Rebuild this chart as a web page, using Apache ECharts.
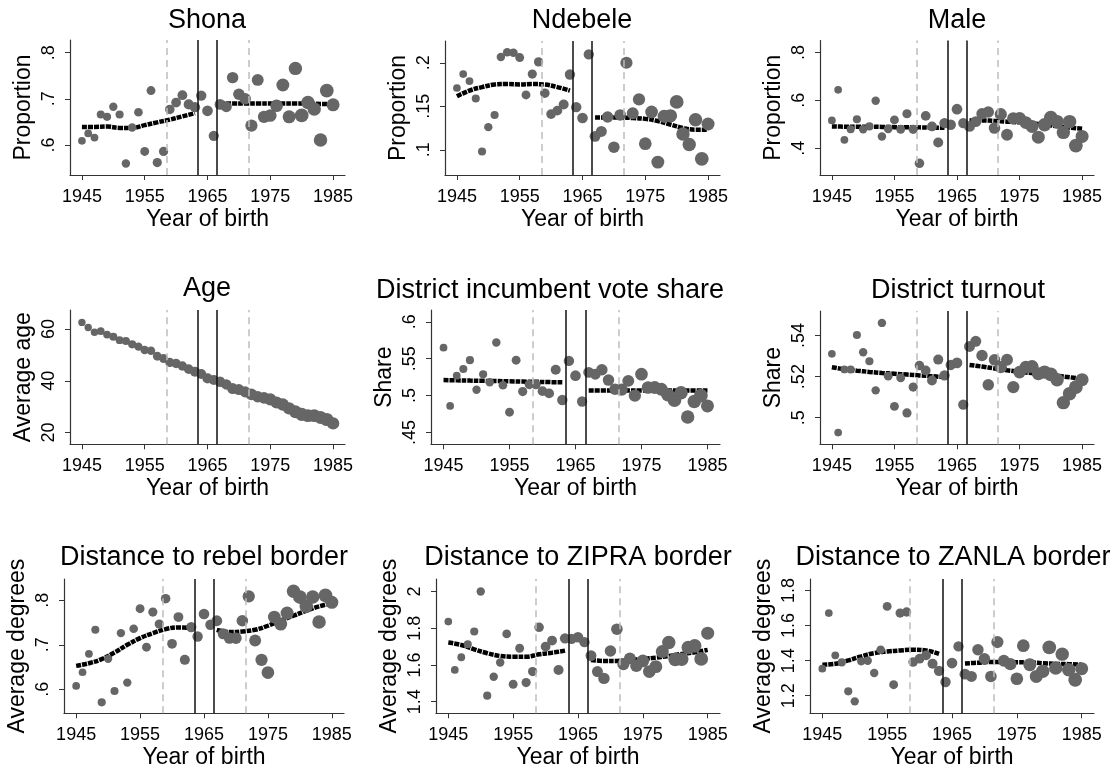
<!DOCTYPE html>
<html>
<head>
<meta charset="utf-8">
<script src="https://cdn.jsdelivr.net/npm/echarts@6/dist/echarts.min.js"></script>
<style>
  html, body { margin: 0; padding: 0; background: #fff; }
  #chart { width: 1120px; height: 771px; }
</style>
</head>
<body>
<div id="chart"></div>
<script>
// ---- Birth-year cohorts ----
const years = [1945, 1946, 1947, 1948, 1949, 1950, 1951, 1952, 1953, 1954,
               1955, 1956, 1957, 1958, 1959, 1960, 1961, 1962, 1963, 1964,
               1965, 1966, 1967, 1968, 1969, 1970, 1971, 1972, 1973, 1974,
               1975, 1976, 1977, 1978, 1979, 1980, 1981, 1982, 1983, 1984, 1985];

// Respondents per cohort (marker weight)
const cohortN = [45, 45, 46, 49, 50, 53, 50, 54, 54, 57,
                 60, 60, 64, 65, 69, 72, 73, 76, 81, 82,
                 86, 80, 90, 91, 99, 100, 101, 113, 107, 114,
                 121, 122, 127, 128, 136, 143, 137, 136, 138, 144, 128];

// ---- Cohort means ----
const shona = [0.609, 0.625, 0.616, 0.666, 0.661, 0.683, 0.666, 0.560, 0.638, 0.671,
               0.586, 0.718, 0.562, 0.586, 0.677, 0.692, 0.708, 0.688, 0.682, 0.707,
               0.674, 0.620, 0.688, 0.683, 0.746, 0.710, 0.700, 0.642, 0.741, 0.661,
               0.664, 0.685, 0.730, 0.661, 0.766, 0.664, 0.692, 0.678, 0.611, 0.718, 0.687];

const ndebele = [0.171, 0.187, 0.179, 0.159, 0.098, 0.126, 0.140, 0.2065, 0.212, 0.2115,
                 0.206, 0.163, 0.187, 0.201, 0.165, 0.141, 0.145, 0.152, 0.1865, 0.149,
                 0.1365, 0.2096, 0.1154, 0.121, 0.1377, 0.103, 0.140, 0.200, 0.142, 0.158,
                 0.107, 0.1435, 0.0858, 0.1385, 0.139, 0.155, 0.118, 0.106, 0.1346, 0.0896, 0.1296];

const male = [0.516, 0.644, 0.435, 0.479, 0.521, 0.479, 0.491, 0.598, 0.449, 0.481,
              0.518, 0.479, 0.544, 0.479, 0.337, 0.535, 0.491, 0.424, 0.505, 0.498,
              0.563, 0.505, 0.491, 0.511, 0.544, 0.551, 0.484, 0.542, 0.456, 0.525,
              0.525, 0.507, 0.491, 0.446, 0.498, 0.528, 0.511, 0.466, 0.511, 0.411, 0.449];

const averageAge = [62.6, 60.6, 58.8, 59.2, 57.9, 57.0, 55.7, 55.4, 54.1, 53.2,
                    51.9, 51.6, 49.5, 48.6, 47.1, 46.7, 45.7, 44.5, 43.5, 42.6,
                    40.9, 40.3, 39.6, 38.6, 37.0, 36.6, 35.7, 34.7, 33.8, 33.4,
                    32.8, 31.6, 30.8, 29.3, 28.0, 27.0, 26.5, 26.5, 25.8, 25.0, 23.5];

const incumbentShare = [0.565, 0.486, 0.527, 0.536, 0.548, 0.508, 0.529, 0.518, 0.572, 0.514,
                        0.4775, 0.548, 0.5054, 0.515, 0.515, 0.506, 0.503, 0.535, 0.494, 0.547,
                        0.527, 0.492, 0.5315, 0.529, 0.535, 0.521, 0.5086, 0.508, 0.520, 0.500,
                        0.529, 0.511, 0.511, 0.5086, 0.501, 0.494, 0.504, 0.471, 0.492, 0.500, 0.486];

const turnout = [0.5311, 0.4927, 0.5235, 0.5235, 0.5403, 0.5319, 0.5275, 0.5133, 0.5462, 0.5202,
                 0.5055, 0.5194, 0.5023, 0.5149, 0.5254, 0.5230, 0.5181, 0.5283, 0.5206, 0.5257,
                 0.5267, 0.5063, 0.5347, 0.5372, 0.5303, 0.5160, 0.5282, 0.5246, 0.5282, 0.5149,
                 0.5222, 0.5246, 0.5249, 0.5214, 0.5222, 0.5211, 0.5185, 0.5073, 0.5117, 0.5149, 0.5185];

const distRebel = [0.6075, 0.6383, 0.6797, 0.7338, 0.5707, 0.6684, 0.5962, 0.7263, 0.6150, 0.7361,
                   0.7812, 0.6947, 0.7737, 0.7466, 0.8038, 0.7023, 0.7624, 0.6662, 0.7398, 0.7188,
                   0.7692, 0.7451, 0.7541, 0.7248, 0.7150, 0.7150, 0.7541, 0.8090, 0.7098, 0.6662,
                   0.6376, 0.7624, 0.7466, 0.7714, 0.8203, 0.8075, 0.7865, 0.8075, 0.7511, 0.8113, 0.7955];

const distZipra = [1.836, 1.573, 1.642, 1.713, 1.782, 2.000, 1.433, 1.536, 1.613, 1.769,
                   1.495, 1.691, 1.504, 1.564, 1.805, 1.700, 1.733, 1.573, 1.745, 1.742,
                   1.751, 1.724, 1.651, 1.564, 1.527, 1.676, 1.795, 1.605, 1.636, 1.595,
                   1.622, 1.564, 1.591, 1.673, 1.722, 1.631, 1.631, 1.695, 1.704, 1.633, 1.773];

const distZanla = [1.354, 1.671, 1.430, 1.390, 1.225, 1.168, 1.396, 1.399, 1.329, 1.462,
                   1.709, 1.263, 1.671, 1.677, 1.392, 1.411, 1.430, 1.382, 1.342, 1.278,
                   1.386, 1.481, 1.323, 1.310, 1.462, 1.411, 1.310, 1.506, 1.399, 1.380,
                   1.297, 1.485, 1.377, 1.310, 1.339, 1.475, 1.358, 1.437, 1.348, 1.291, 1.354];

// ---- Local fits on each side of the cutoff ----
const fitYearsPre  = [1945, 1947, 1949, 1951, 1953, 1955, 1957, 1959, 1961, 1963];
const fitYearsPost = [1967, 1969, 1971, 1973, 1975, 1977, 1979, 1981, 1983, 1985];

const shonaFitPre  = [0.639, 0.639, 0.640, 0.637, 0.637, 0.643, 0.649, 0.655, 0.662, 0.669];
const shonaFitPost = [0.690, 0.690, 0.690, 0.690, 0.690, 0.690, 0.690, 0.690, 0.689, 0.689];
const ndebeleFitPre  = [0.1615, 0.168, 0.172, 0.175, 0.1755, 0.175, 0.1755, 0.175, 0.172, 0.168];
const ndebeleFitPost = [0.137, 0.137, 0.137, 0.1365, 0.1355, 0.133, 0.129, 0.125, 0.123, 0.123];
const maleFitPre  = [0.491, 0.490, 0.490, 0.490, 0.489, 0.488, 0.488, 0.487, 0.486, 0.485];
const maleFitPost = [0.516, 0.516, 0.514, 0.511, 0.508, 0.504, 0.498, 0.492, 0.486, 0.481];
const incumbentFitPre  = [0.521, 0.5207, 0.5203, 0.520, 0.5197, 0.5193, 0.519, 0.5187, 0.5183, 0.518];
const incumbentFitPost = [0.507, 0.507, 0.507, 0.507, 0.507, 0.507, 0.507, 0.507, 0.507, 0.507];
const turnoutFitPre  = [0.5246, 0.5236, 0.5229, 0.5223, 0.5218, 0.5214, 0.5210, 0.5206, 0.5202, 0.5198];
const turnoutFitPost = [0.5257, 0.5249, 0.5240, 0.5231, 0.5224, 0.5217, 0.5211, 0.5204, 0.5197, 0.5190];
const rebelFitPre  = [0.6526, 0.6586, 0.6677, 0.6827, 0.700, 0.715, 0.7263, 0.7353, 0.7391, 0.7376];
const rebelFitPost = [0.7338, 0.7286, 0.730, 0.7338, 0.7429, 0.7549, 0.7654, 0.7767, 0.7865, 0.7935];
const zipraFitPre  = [1.722, 1.709, 1.685, 1.664, 1.649, 1.645, 1.645, 1.658, 1.667, 1.678];
const zipraFitPost = [1.627, 1.622, 1.622, 1.627, 1.633, 1.640, 1.649, 1.660, 1.669, 1.682];
const zanlaFitPre  = [1.377, 1.382, 1.401, 1.424, 1.443, 1.452, 1.458, 1.462, 1.458, 1.439];
const zanlaFitPost = [1.384, 1.388, 1.392, 1.392, 1.391, 1.390, 1.385, 1.382, 1.380, 1.377];

// ---- Axis ticks and reference years ----
const xTicks = [1945, 1955, 1965, 1975, 1985];
const cutoffYears = [1963.5, 1966.5];   // solid
const windowYears = [1958.5, 1971.5];   // dashed

const shonaTicks = [0.6, 0.7, 0.8];
const ndebeleTicks = [0.1, 0.15, 0.2];
const maleTicks = [0.4, 0.6, 0.8];
const ageTicks = [20, 40, 60];
const incumbentTicks = [0.45, 0.5, 0.55, 0.6];
const turnoutTicks = [0.5, 0.52, 0.54];
const rebelTicks = [0.6, 0.7, 0.8];
const zipraTicks = [1.4, 1.6, 1.8, 2];
const zanlaTicks = [1.2, 1.4, 1.6, 1.8];

const panels = [
  { title: 'Shona', yName: 'Proportion', values: shona, pre: shonaFitPre, post: shonaFitPost,
    ticks: shonaTicks, yMin: 0.535, yMax: 0.8275 },
  { title: 'Ndebele', yName: 'Proportion', values: ndebele, pre: ndebeleFitPre, post: ndebeleFitPost,
    ticks: ndebeleTicks, yMin: 0.071, yMax: 0.225 },
  { title: 'Male', yName: 'Proportion', values: male, pre: maleFitPre, post: maleFitPost,
    ticks: maleTicks, yMin: 0.288, yMax: 0.85 },
  { title: 'Age', yName: 'Average age', values: averageAge, pre: null, post: null,
    ticks: ageTicks, yMin: 15.4, yMax: 67.4 },
  { title: 'District incumbent vote share', yName: 'Share', values: incumbentShare,
    pre: incumbentFitPre, post: incumbentFitPost, ticks: incumbentTicks, yMin: 0.434, yMax: 0.616 },
  { title: 'District turnout', yName: 'Share', values: turnout, pre: turnoutFitPre, post: turnoutFitPost,
    ticks: turnoutTicks, yMin: 0.487, yMax: 0.552 },
  { title: 'Distance to rebel border', yName: 'Average degrees', values: distRebel,
    pre: rebelFitPre, post: rebelFitPost, ticks: rebelTicks, yMin: 0.546, yMax: 0.848 },
  { title: 'Distance to ZIPRA border', yName: 'Average degrees', values: distZipra,
    pre: zipraFitPre, post: zipraFitPost, ticks: zipraTicks, yMin: 1.337, yMax: 2.068 },
  { title: 'Distance to ZANLA border', yName: 'Average degrees', values: distZanla,
    pre: zanlaFitPre, post: zanlaFitPost, ticks: zanlaTicks, yMin: 1.10, yMax: 1.865 }
];

// ---- Layout: plot regions and title anchors ----
const layout = [
  { grid: [70, 40, 275, 135],      titleAt: [207, 21],    markerScale: 1.15 },
  { grid: [445, 41, 275, 134],     titleAt: [582, 21],    markerScale: 1.15 },
  { grid: [820, 40.5, 274, 134.5], titleAt: [957, 21],    markerScale: 1.15 },
  { grid: [70, 310, 275, 134.3],   titleAt: [207, 288.5], markerScale: 1.1 },
  { grid: [431, 310, 289, 134.3],  titleAt: [550, 290.5], markerScale: 1.15 },
  { grid: [820, 311, 274, 133.3],  titleAt: [958, 290.5], markerScale: 1.15 },
  { grid: [64, 579, 280, 134.3],   titleAt: [204, 558],   markerScale: 1.15 },
  { grid: [436, 579, 284, 134.3],  titleAt: [578, 558],   markerScale: 1.15 },
  { grid: [810, 579, 284, 134.3],  titleAt: [953, 558],   markerScale: 1.15 }
];

const FONT = "'Liberation Sans', Arial, Helvetica, sans-serif";
const TICK_FONT = "'Liberation Sans Narrow', 'Arial Narrow', 'Liberation Sans', Arial, sans-serif";
const MARKER = '#666666';
const AXIS = '#333333';

function tickText(v) {
  const s = String(+Number(v).toFixed(4));
  return s.replace(/^0\./, '.');
}

const option = {
  animation: false,
  backgroundColor: '#ffffff',
  title: [], grid: [], xAxis: [], yAxis: [], series: []
};

// vertical reference lines for one panel, drawn behind the marks
function addReferenceLines(i) {
  const lines = [];
  windowYears.forEach(x => lines.push({ xAxis: x, lineStyle: { color: '#bdbdbd', width: 1.5, type: [7, 5] } }));
  cutoffYears.forEach(x => lines.push({ xAxis: x, lineStyle: { color: '#111111', width: 1.5, type: 'solid' } }));
  option.series.push({
    type: 'line', xAxisIndex: i, yAxisIndex: i, z: 1, data: [], silent: true,
    markLine: { silent: true, symbol: ['none', 'none'], label: { show: false }, animation: false, data: lines }
  });
}

panels.forEach((p, i) => {
  const L = layout[i];
  option.title.push({
    text: p.title, left: L.titleAt[0], top: L.titleAt[1],
    textAlign: 'center', textVerticalAlign: 'middle', padding: 0,
    textStyle: { fontFamily: FONT, fontSize: 27, fontWeight: 'normal', color: '#000' }
  });
  option.grid.push({ left: L.grid[0], top: L.grid[1], width: L.grid[2], height: L.grid[3], containLabel: false });
  option.xAxis.push({
    gridIndex: i, type: 'value', min: 1943.1, max: 1986.9,
    name: 'Year of birth', nameLocation: 'middle', nameGap: 33,
    nameTextStyle: { fontFamily: FONT, fontSize: 23, color: '#000' },
    axisLine: { show: true, onZero: false, lineStyle: { color: AXIS, width: 1.2 } },
    axisTick: { show: true, inside: false, length: 5, customValues: xTicks, lineStyle: { color: AXIS } },
    axisLabel: { customValues: xTicks, margin: 13, fontFamily: TICK_FONT, fontSize: 18, color: '#000',
                 formatter: v => String(v) },
    splitLine: { show: false }
  });
  option.yAxis.push({
    gridIndex: i, type: 'value', min: p.yMin, max: p.yMax,
    name: p.yName, nameLocation: 'middle', nameGap: 35, nameRotate: 90,
    nameTextStyle: { fontFamily: FONT, fontSize: 23, color: '#000' },
    axisLine: { show: true, onZero: false, lineStyle: { color: AXIS, width: 1.2 } },
    axisTick: { show: true, inside: false, length: 5, customValues: p.ticks, lineStyle: { color: AXIS } },
    axisLabel: { customValues: p.ticks, rotate: 90, margin: 12, fontFamily: TICK_FONT, fontSize: 18,
                 color: '#000', formatter: tickText },
    splitLine: { show: false }
  });

  addReferenceLines(i);

  if (p.pre) {
    [[fitYearsPre, p.pre], [fitYearsPost, p.post]].forEach(([xs, ys]) => {
      option.series.push({
        type: 'line', xAxisIndex: i, yAxisIndex: i, z: 2,
        data: xs.map((x, j) => [x, ys[j]]),
        smooth: 0.4, showSymbol: false, silent: true,
        lineStyle: { color: '#000000', width: 4.5, type: [5, 1], cap: 'butt' }
      });
    });
  }

  option.series.push({
    type: 'scatter', xAxisIndex: i, yAxisIndex: i, z: 3,
    data: years.map((y, j) => [y, p.values[j], cohortN[j]]),
    symbol: 'circle',
    symbolSize: d => Math.sqrt(d[2]) * L.markerScale,
    itemStyle: { color: MARKER, opacity: 1 },
    silent: true
  });
});

const chart = echarts.init(document.getElementById('chart'), null, { renderer: 'canvas' });
chart.setOption(option);
</script>
</body>
</html>
